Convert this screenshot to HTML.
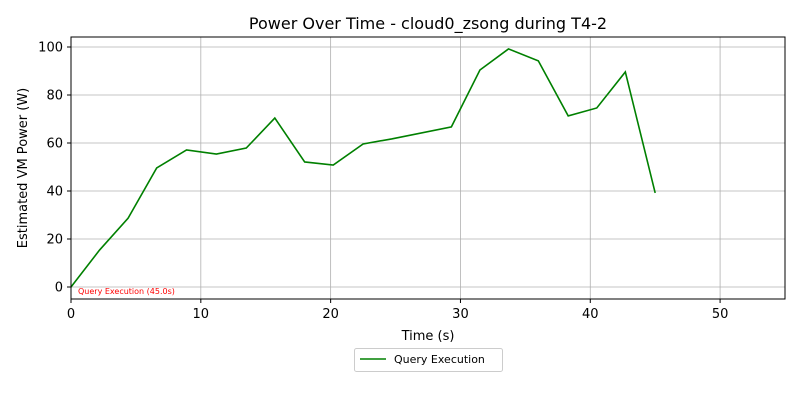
<!DOCTYPE html>
<html><head><meta charset="utf-8"><style>
body{margin:0;background:#fff;font-family:"Liberation Sans","DejaVu Sans",sans-serif;}
svg text{font-family:"DejaVu Sans","Liberation Sans",sans-serif;}
</style></head><body>
<svg id="c" width="800" height="400" xmlns="http://www.w3.org/2000/svg">
<rect width="800" height="400" fill="#fff"/>
<g id="grid"></g>
<g id="series"></g>
<rect x="71" y="37" width="714" height="262" fill="none" stroke="#000" stroke-width="1"/>
<g id="axes"></g>
<text x="428" y="29" font-size="16" text-anchor="middle">Power Over Time - cloud0_zsong during T4-2</text>
<text x="428" y="340" font-size="13" text-anchor="middle">Time (s)</text>
<text x="27" y="168" font-size="13" text-anchor="middle" transform="rotate(-90 27 168)">Estimated VM Power (W)</text>
<text x="78" y="294" font-size="8" fill="red">Query Execution (45.0s)</text>
<g>
<rect x="354.5" y="348.5" width="148" height="23" fill="#fff" stroke="#ccc" rx="2"/>
<line x1="360" y1="359" x2="386" y2="359" stroke="green" stroke-width="1.5"/>
<text x="394" y="363" font-size="11">Query Execution</text>
</g>
</svg>
<script>
const times=[0,2.2,4.4,6.6,8.9,11.2,13.5,15.7,18.0,20.2,22.5,24.7,29.3,31.5,33.7,36.0,38.3,40.5,42.7,45.0];
const power=[0,15.4,28.7,49.6,57.1,55.4,57.9,70.4,52.1,50.8,59.6,61.7,66.7,90.4,99.2,94.2,71.3,74.6,89.6,39.2];
const xTicks=[0,10,20,30,40,50];
const yTicks=[0,20,40,60,80,100];
const X=v=>71+v*714/55, Y=v=>287-v*2.4;
const ns="http://www.w3.org/2000/svg";
const g=document.getElementById('grid'),a=document.getElementById('axes'),s=document.getElementById('series');
function mk(p,t,at){const e=document.createElementNS(ns,t);for(const k in at)e.setAttribute(k,at[k]);p.appendChild(e);return e;}
xTicks.forEach(t=>{
const gl=mk(g,'line',{x1:X(t),x2:X(t),y1:37,y2:299,stroke:'#b0b0b0','stroke-width':0.8});


mk(a,'line',{x1:X(t),x2:X(t),y1:299,y2:303,stroke:'#000'});
const tx=mk(a,'text',{x:X(t),y:318,'font-size':13,'text-anchor':'middle'});tx.textContent=t;


});
yTicks.forEach(t=>{
const gl=mk(g,'line',{x1:71,x2:785,y1:Y(t),y2:Y(t),stroke:'#b0b0b0','stroke-width':0.8});


mk(a,'line',{x1:67,x2:71,y1:Y(t),y2:Y(t),stroke:'#000'});
const tx=mk(a,'text',{x:63,y:Y(t)+4.5,'font-size':13,'text-anchor':'end'});tx.textContent=t;


});
const pl=mk(s,'polyline',{points:times.map((t,i)=>X(t)+','+Y(power[i])).join(' '),fill:'none',stroke:'green','stroke-width':1.6});


</script>
</body></html>
